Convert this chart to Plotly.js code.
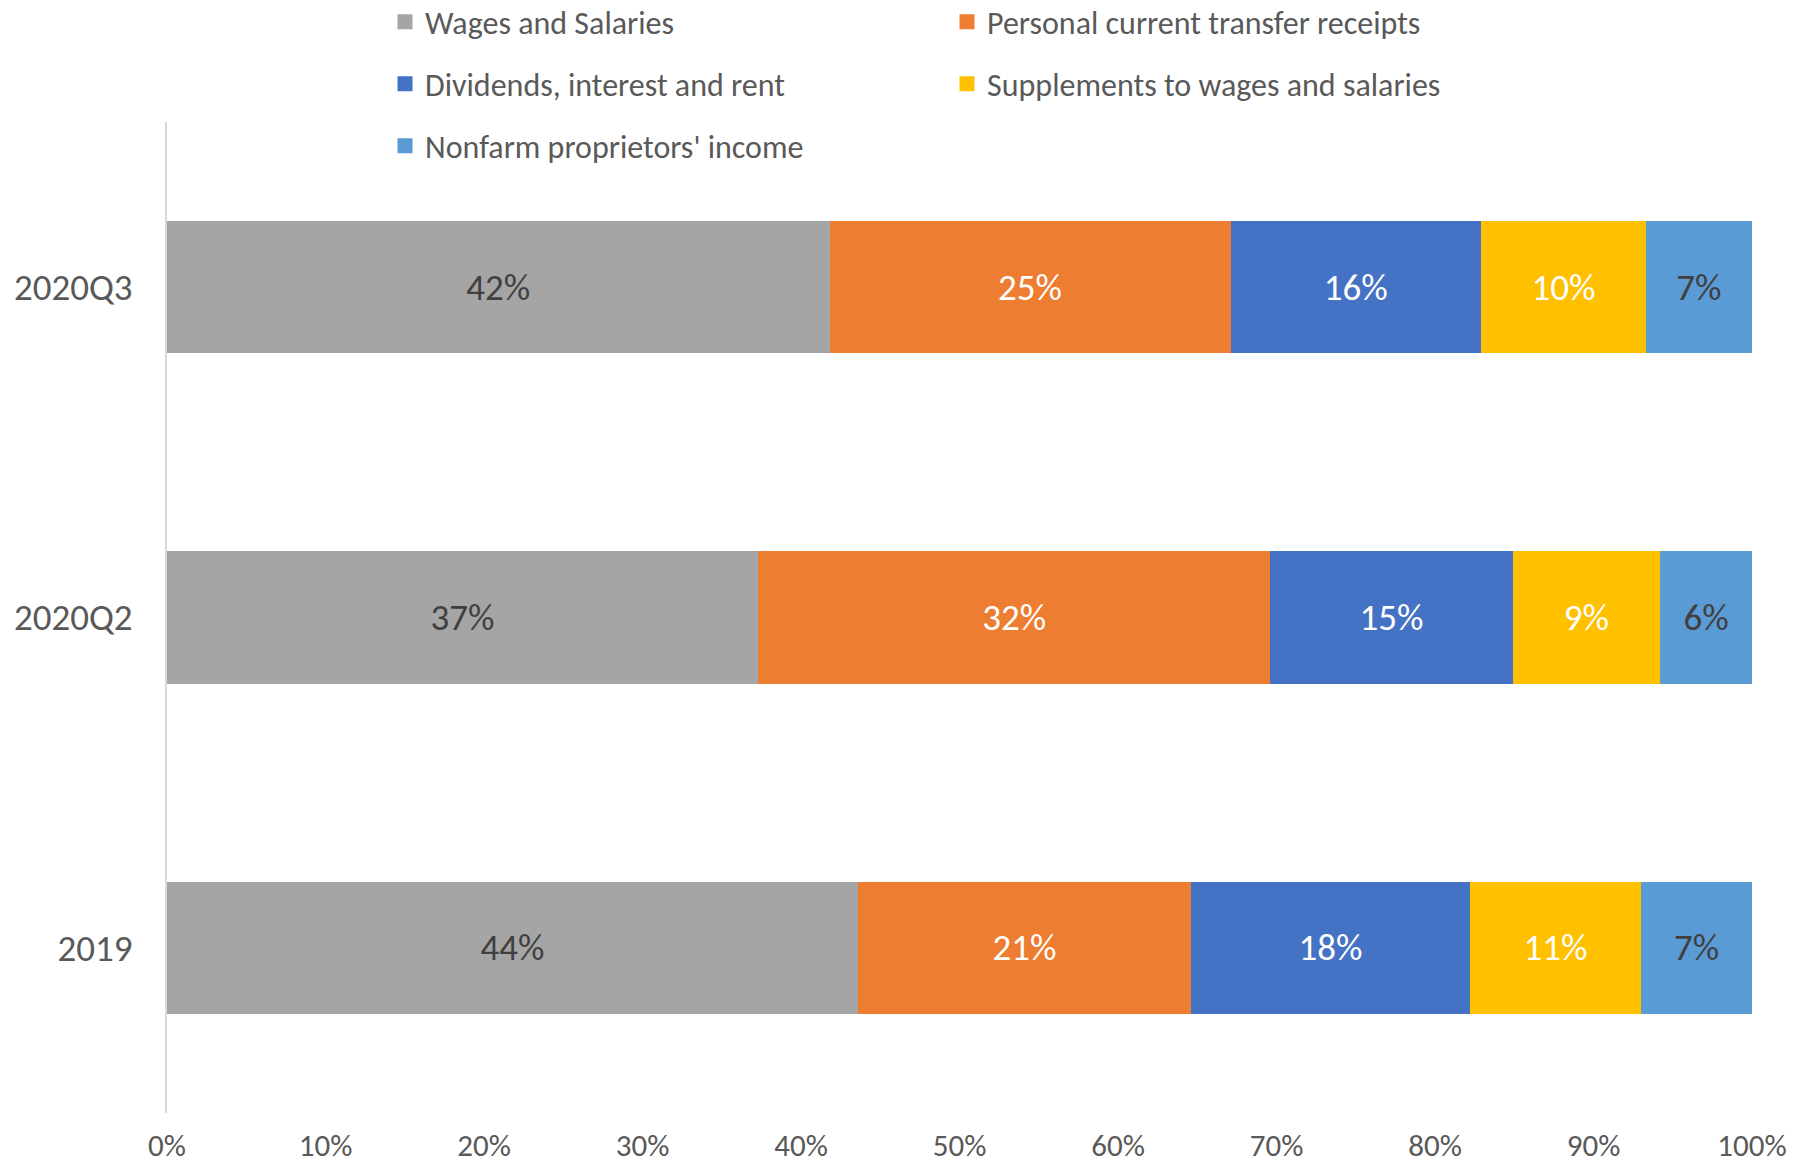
<!DOCTYPE html>
<html>
<head>
<meta charset="utf-8">
<script src="https://cdn.plot.ly/plotly-3.0.1.min.js"></script>
<style>
  html, body { margin: 0; padding: 0; background: #ffffff; }
  #chart { width: 1796px; height: 1167px; }
</style>
</head>
<body>
<div id="chart"></div>
<script>
// ---- Data ----
var categories = ['2019', '2020Q2', '2020Q3'];
var wagesSalaries = [43.6, 37.3, 41.8];
var transferReceipts = [21.0, 32.3, 25.3];
var dividendsInterestRent = [17.6, 15.3, 15.8];
var supplementsWages = [10.8, 9.3, 10.4];
var nonfarmIncome = [7.0, 5.8, 6.7];
var seriesNames = ['Wages and Salaries', 'Personal current transfer receipts',
  'Dividends, interest and rent', 'Supplements to wages and salaries', "Nonfarm proprietors' income"];
var xTickVals = [0, 10, 20, 30, 40, 50, 60, 70, 80, 90, 100];
var xTickText = ['0%', '10%', '20%', '30%', '40%', '50%', '60%', '70%', '80%', '90%', '100%'];

var FONT = 'Carlito, Calibri, Lato, sans-serif';
var TEXTGRAY = '#595959';
var colors = ['#A5A5A5', '#ED7D31', '#4472C4', '#FFC000', '#5B9BD5'];
var labelColors = ['#404040', '#FFFFFF', '#FFFFFF', '#FFFFFF', '#404040'];
var legendIds = ['legend', 'legend2', 'legend3', 'legend4', 'legend5'];
var values = [wagesSalaries, transferReceipts, dividendsInterestRent, supplementsWages, nonfarmIncome];

// plot area in px
var L = 167, R = 1752, T = 122, B = 1113;
function xp(px) { return (px - L) / (R - L); }
function yp(py) { return (B - py) / (B - T); }

var data = [];
for (var i = 0; i < values.length; i++) {
  data.push({
    type: 'bar',
    orientation: 'h',
    name: seriesNames[i],
    y: categories,
    x: values[i],
    marker: { color: colors[i], line: { width: 0 } },
    texttemplate: '%{x:.0f}%',
    textposition: 'inside',
    insidetextanchor: 'middle',
    textangle: 0,
    constraintext: 'none',
    insidetextfont: { family: FONT, size: 37, color: labelColors[i] },
    hoverinfo: 'skip',
    showlegend: false
  });
}
// legend entries (square swatches, no data)
for (var j = 0; j < values.length; j++) {
  data.push({
    type: 'scatter',
    mode: 'markers',
    name: seriesNames[j],
    x: [null],
    y: [null],
    marker: { symbol: 'square', size: 15, color: colors[j], line: { width: 0 } },
    hoverinfo: 'skip',
    showlegend: true,
    legend: legendIds[j]
  });
}

function leg(pxX, pxY) {
  return {
    x: xp(pxX), y: yp(pxY), xanchor: 'left', yanchor: 'middle',
    orientation: 'h', bgcolor: 'rgba(0,0,0,0)', borderwidth: 0,
    font: { family: FONT, size: 32, color: TEXTGRAY }
  };
}

var layout = {
  width: 1796,
  height: 1167,
  paper_bgcolor: '#ffffff',
  plot_bgcolor: '#ffffff',
  barmode: 'stack',
  bargap: 0.6,
  margin: { l: L, r: 1796 - R, t: T, b: 1167 - B, pad: 0, autoexpand: false },
  font: { family: FONT, color: TEXTGRAY },
  xaxis: {
    range: [0, 100],
    tickvals: xTickVals,
    ticktext: xTickText,
    showgrid: false,
    zeroline: false,
    showline: false,
    ticks: '',
    ticklabelstandoff: 11,
    tickfont: { family: FONT, size: 31, color: TEXTGRAY },
    fixedrange: true
  },
  yaxis: {
    type: 'category',
    range: [-0.5, 2.5],
    showgrid: false,
    zeroline: false,
    showline: true,
    linecolor: '#D9D9D9',
    linewidth: 2,
    ticks: '',
    ticklabelstandoff: 25,
    tickfont: { family: FONT, size: 37, color: TEXTGRAY },
    fixedrange: true
  },
  showlegend: true,
  legend: leg(385, 22),
  legend2: leg(947, 22),
  legend3: leg(385, 84),
  legend4: leg(947, 84),
  legend5: leg(385, 146)
};

Plotly.newPlot('chart', data, layout, { displayModeBar: false, staticPlot: true });
</script>
</body>
</html>
